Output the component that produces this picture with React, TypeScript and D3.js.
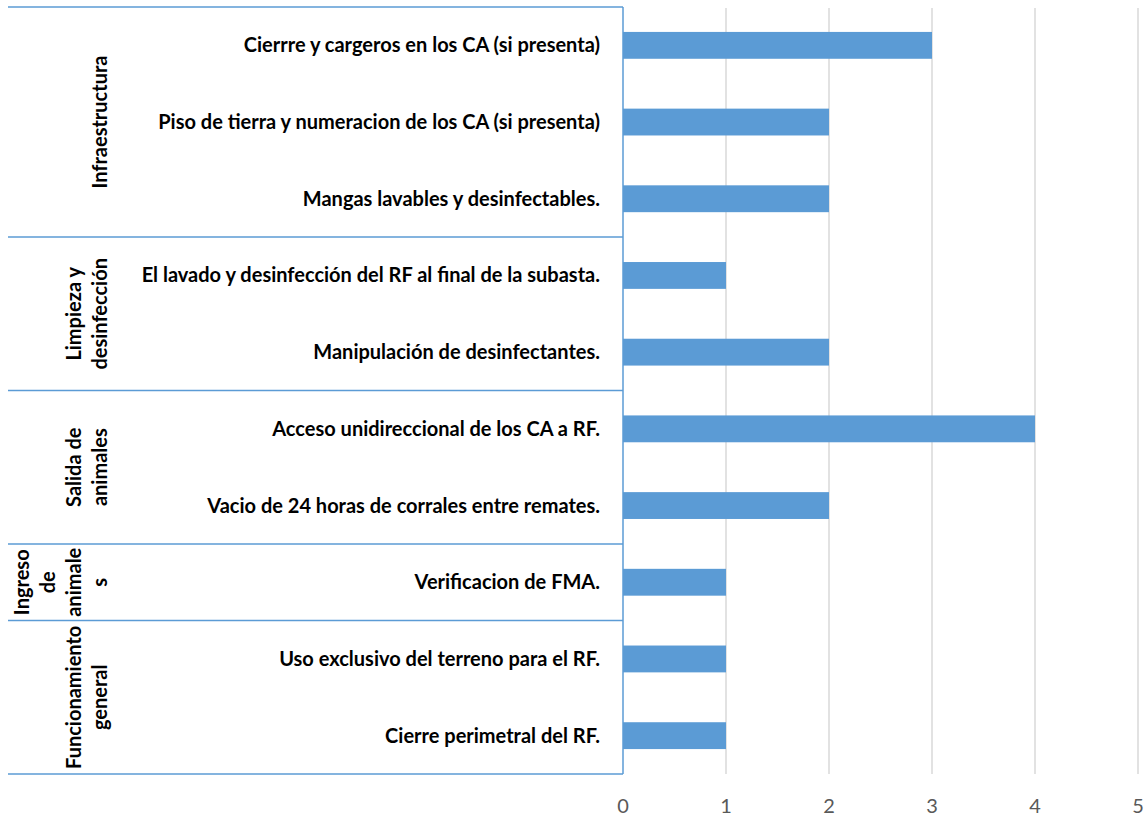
import React from "react";
import * as d3 from "d3";

const categories = [
  "Cierrre y cargeros en los CA (si presenta)",
  "Piso de tierra y numeracion de los CA (si presenta)",
  "Mangas lavables y desinfectables.",
  "El lavado y desinfección del RF al final de la subasta.",
  "Manipulación de desinfectantes.",
  "Acceso unidireccional de los CA a RF.",
  "Vacio de 24 horas de corrales entre remates.",
  "Verificacion de FMA.",
  "Uso exclusivo del terreno para el RF.",
  "Cierre perimetral del RF.",
];
const values = [3, 2, 2, 1, 2, 4, 2, 1, 1, 1];
const groupLabels = [
  ["Infraestructura"],
  ["Limpieza y", "desinfección"],
  ["Salida de", "animales"],
  ["Ingreso", "de", "animale", "s"],
  ["Funcionamiento", "general"],
];
const groupSizes = [3, 2, 2, 1, 2];
const xTicks = [0, 1, 2, 3, 4, 5];

const W = 1146;
const H = 819;
const left = 623;
const right = 1138;
const top = 7;
const bottom = 774;
const groupLeft = 8;
const blue = "#5B9BD5";
const font = "Lato, 'Open Sans', sans-serif";

export default function App() {
  const x = d3.scaleLinear().domain([0, 5]).range([left, right]);
  const y = d3
    .scaleBand<number>()
    .domain(d3.range(categories.length))
    .range([top, bottom])
    .paddingInner(0.65)
    .paddingOuter(0.325);
  const step = y.step();

  let acc = 0;
  const groups = groupSizes.map((n, i) => {
    const y0 = top + acc * step;
    acc += n;
    const y1 = top + acc * step;
    return { y0, y1, lines: groupLabels[i] };
  });

  return (
    <svg width={W} height={H} style={{ position: "absolute", left: 0, top: 0, background: "#fff" }}>
      {xTicks.slice(1).map((t) => (
        <line key={t} x1={x(t)} x2={x(t)} y1={top + 1} y2={bottom} stroke="#D9D9D9" strokeWidth={1.5} />
      ))}
      {values.map((v, i) => (
        <rect key={i} x={x(0)} y={y(i)} width={x(v) - x(0)} height={y.bandwidth()} fill={blue} />
      ))}
      <line x1={left} x2={left} y1={top} y2={bottom} stroke={blue} strokeWidth={1.5} />
      {[top, ...groups.map((g) => g.y1)].map((yy, i) => (
        <line key={i} x1={groupLeft} x2={left} y1={yy} y2={yy} stroke={blue} strokeWidth={1.5} />
      ))}
      {categories.map((c, i) => (
        <text
          key={c}
          x={600}
          y={(y(i) as number) + y.bandwidth() / 2}
          dy="0.35em"
          textAnchor="end"
          fontFamily={font}
          fontWeight="bold"
          fontSize={20}
          fill="#000"
        >
          {c}
        </text>
      ))}
      {groups.map((g, i) => {
        const cy = (g.y0 + g.y1) / 2;
        const n = g.lines.length;
        return g.lines.map((ln, j) => {
          const bx = 107 - (n - 1 - j) * 26;
          return (
            <text
              key={i + "-" + j}
              transform={`translate(${bx},${cy}) rotate(-90)`}
              textAnchor="middle"
              fontFamily={font}
              fontWeight="bold"
              fontSize={20}
              fill="#000"
            >
              {ln}
            </text>
          );
        });
      })}
      {xTicks.map((t) => (
        <text key={t} x={x(t)} y={806} dy="0.35em" textAnchor="middle" fontFamily={font} fontSize={20} fill="#595959">
          {t}
        </text>
      ))}
    </svg>
  );
}
